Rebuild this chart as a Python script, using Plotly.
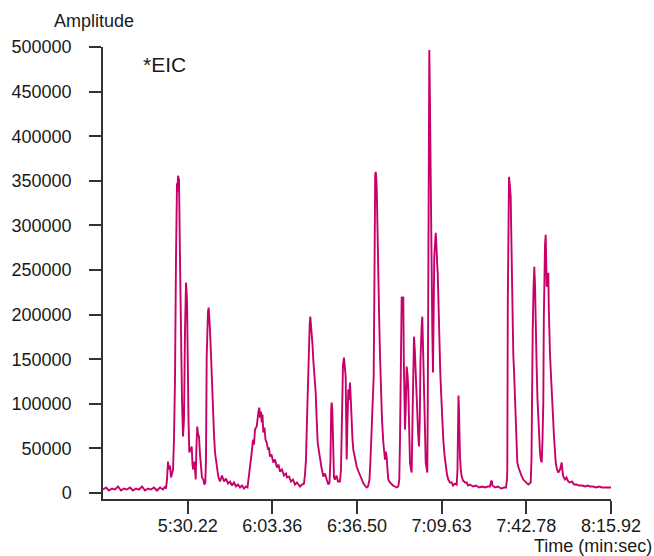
import plotly.graph_objects as go

# Retention time (s) and amplitude
time_s = [
    297.08, 298.25, 299.43, 300.60, 301.78, 302.95, 304.13, 305.30, 306.47, 307.65,
    308.82, 310.00, 311.17, 312.35, 313.52, 314.69, 315.87, 317.04, 318.22, 319.39,
    320.56, 321.35, 321.74, 322.13, 322.52, 322.91, 323.30, 323.70, 324.09, 324.48,
    324.87, 325.26, 325.65, 326.04, 326.24, 326.44, 326.83, 327.22, 327.61, 328.00,
    328.39, 328.78, 329.18, 329.57, 329.96, 330.15, 330.55, 330.86, 331.33, 331.80,
    332.11, 332.42, 332.89, 333.36, 333.68, 333.99, 334.26, 334.65, 335.05, 335.44,
    335.83, 336.34, 336.73, 337.12, 337.39, 337.67, 337.90, 338.18, 338.45, 338.69,
    338.96, 339.35, 339.63, 340.13, 340.53, 340.92, 341.50, 342.21, 342.87, 343.66,
    344.44, 345.22, 346.01, 346.79, 347.57, 348.35, 349.14, 349.92, 350.70, 351.49,
    352.27, 353.05, 353.64, 354.22, 354.62, 355.20, 355.79, 356.18, 356.57, 357.24,
    357.55, 357.94, 358.26, 358.53, 358.92, 359.20, 359.51, 359.82, 360.29, 360.68,
    361.15, 361.66, 362.05, 362.44, 363.03, 363.74, 364.40, 365.18, 365.77, 366.36,
    367.14, 367.92, 368.71, 369.10, 369.88, 370.66, 371.45, 372.23, 373.01, 374.19,
    374.97, 375.75, 376.14, 376.53, 376.93, 377.20, 377.51, 377.71, 377.98, 378.22,
    378.49, 378.77, 379.08, 379.39, 379.86, 380.33, 380.72, 381.11, 381.62, 382.01,
    382.60, 383.31, 383.97, 384.64, 385.26, 385.73, 386.12, 386.40, 386.59, 386.83,
    387.02, 387.22, 387.49, 387.89, 388.47, 389.06, 389.84, 390.23, 390.51, 390.74,
    391.02, 391.41, 391.72, 392.07, 392.27, 392.46, 392.70, 393.09, 393.36, 393.56,
    393.76, 394.07, 394.42, 394.74, 395.05, 395.72, 396.38, 397.08, 397.67, 398.34,
    399.04, 399.63, 400.29, 400.80, 401.39, 401.78, 402.25, 402.64, 403.03, 403.27,
    403.43, 403.62, 403.82, 404.05, 404.25, 404.45, 404.80, 405.11, 405.50, 405.90,
    406.29, 406.80, 407.15, 407.46, 407.77, 408.12, 408.44, 408.75, 409.41, 410.08,
    410.59, 411.37, 411.96, 412.66, 413.05, 413.33, 413.60, 413.80, 413.99, 414.31,
    414.62, 414.82, 415.01, 415.29, 415.56, 415.76, 415.95, 416.27, 416.58, 416.93,
    417.24, 417.63, 417.91, 418.22, 418.50, 418.81, 419.12, 419.48, 419.79, 420.10,
    420.45, 420.77, 421.08, 421.35, 421.55, 421.82, 422.06, 422.33, 422.53, 422.84,
    423.11, 423.39, 423.70, 424.02, 424.21, 424.41, 424.60, 424.80, 424.96, 425.07,
    425.23, 425.35, 425.54, 425.74, 425.97, 426.24, 426.44, 426.64, 426.75, 427.03,
    427.30, 427.50, 427.69, 427.89, 428.09, 428.32, 428.59, 428.87, 429.10, 429.37,
    429.65, 429.96, 430.27, 430.74, 431.22, 431.72, 432.23, 432.90, 433.56, 434.07,
    434.85, 435.52, 435.83, 436.03, 436.22, 436.42, 436.62, 436.81, 437.13, 437.48,
    437.99, 438.77, 439.44, 439.95, 440.73, 441.90, 443.08, 444.25, 445.43, 446.60,
    447.77, 448.55, 448.95, 449.22, 449.54, 450.51, 451.69, 452.86, 454.04, 454.82,
    455.21, 455.33, 455.53, 455.72, 456.00, 456.31, 456.66, 456.86, 457.06, 457.25,
    457.45, 457.68, 457.95, 458.35, 458.62, 458.93, 459.25, 459.72, 460.30, 460.89,
    461.59, 462.26, 462.84, 463.55, 464.02, 464.49, 464.80, 465.00, 465.27, 465.58,
    465.90, 466.17, 466.45, 466.64, 466.84, 467.15, 467.46, 467.82, 468.13, 468.44,
    468.80, 469.11, 469.42, 469.62, 469.82, 470.09, 470.36, 470.56, 470.76, 471.07,
    471.38, 471.58, 471.77, 472.05, 472.32, 472.63, 472.95, 473.30, 473.61, 474.00,
    474.28, 474.79, 475.30, 475.96, 476.35, 476.63, 476.94, 477.25, 477.92, 478.50,
    479.21, 479.88, 480.66, 481.44, 482.49, 483.40, 484.57, 485.75, 486.92, 487.70,
    488.88, 490.05, 491.23, 492.40, 493.58, 494.87, 495.92,
]

amplitude = [
    3900, 6200, 2800, 5000, 3900, 7300, 2800, 5000, 3900, 6200,
    2800, 5000, 3900, 7300, 2800, 5000, 3900, 6200, 2800, 6200,
    3900, 7300, 5000, 15100, 35300, 26300, 30800, 17400, 21800, 26300,
    59900, 127100, 261500, 347200, 338200, 355600, 351100, 261500, 149500, 104700,
    63300, 82300, 183100, 235800, 216700, 138300, 82300, 45400, 48700, 52100,
    31900, 26300, 35300, 15100, 54300, 74500, 66600, 63300, 43100, 26300,
    17400, 15100, 9500, 11800, 37500, 152900, 192100, 203300, 207800, 198800,
    183100, 155100, 130500, 93500, 65500, 45400, 31900, 18500, 12900, 19600,
    12900, 16200, 10600, 12900, 8400, 11800, 7300, 9500, 6200, 8400,
    5000, 7300, 6200, 17400, 29700, 43100, 59900, 54300, 71100, 74500,
    84600, 91300, 95800, 84600, 91300, 79000, 87900, 67800, 73400, 59900,
    56600, 48700, 51000, 40900, 43100, 34200, 37500, 28600, 31900, 24100,
    26300, 19600, 21800, 17400, 18500, 12900, 15100, 9500, 11800, 7300,
    9500, 10600, 20700, 37500, 82300, 112600, 155100, 171900, 188700, 197700,
    188700, 186500, 166300, 149500, 132700, 112600, 82300, 56600, 46500, 37500,
    28600, 18500, 21800, 15100, 9500, 11800, 37500, 93500, 101400, 93500,
    59900, 29700, 17400, 15100, 19600, 12900, 12900, 26300, 82300, 112600,
    143900, 151800, 143900, 130500, 82300, 37500, 71100, 115900, 104700, 115900,
    123800, 104700, 74500, 59900, 48700, 37500, 29700, 24100, 19600, 15100,
    10600, 8400, 6200, 7300, 15100, 37500, 74500, 104700, 130500, 216700,
    328700, 356700, 360100, 353400, 338200, 298500, 243600, 205500, 155100, 112600,
    82300, 56600, 43100, 37500, 46500, 39800, 26300, 15100, 11800, 9500,
    8400, 7300, 6200, 7300, 15100, 59900, 171900, 216700, 220100, 216700,
    220100, 149500, 90200, 71100, 93500, 127100, 141700, 132700, 115900, 71100,
    34200, 26300, 23000, 82300, 149500, 175300, 160700, 130500, 104700, 85700,
    65500, 52100, 82300, 149500, 179800, 188700, 197700, 171900, 138300, 115900,
    71100, 34200, 26300, 23000, 104700, 320900, 418300, 496700, 463100, 421700,
    373500, 339900, 295100, 247000, 183100, 135000, 194300, 243600, 264900, 278300,
    291800, 283900, 276100, 255900, 247000, 216700, 191000, 160700, 135000, 115900,
    96900, 76700, 59900, 43100, 29700, 20700, 15100, 11800, 11800, 8400,
    10600, 9500, 26300, 82300, 109200, 93500, 59900, 40900, 26300, 18500,
    14000, 11800, 11800, 8400, 9500, 7300, 8400, 6200, 7300, 6200,
    7300, 7300, 12900, 14000, 8400, 6200, 7300, 5000, 6200, 6200,
    15100, 26300, 216700, 351100, 354500, 345500, 332100, 295100, 243600, 211100,
    175300, 155100, 138300, 104700, 82300, 54300, 34200, 28600, 23000, 19600,
    15100, 12900, 10600, 9500, 10600, 11800, 37500, 127100, 179800, 227900,
    253700, 233500, 205500, 171900, 138300, 104700, 82300, 59900, 45400, 37500,
    34200, 59900, 101400, 194300, 269400, 278300, 289500, 261500, 231300, 239100,
    247000, 205500, 175300, 155100, 138300, 115900, 101400, 82300, 63300, 46500,
    34200, 26300, 23000, 26300, 31900, 34200, 24100, 18500, 15100, 17400,
    12900, 11800, 12900, 9500, 9500, 8400, 8400, 7300, 8400, 7300,
    7300, 6200, 7300, 6200, 6200, 6200, 6200,
]

x_range = [297.08, 495.92]
y_range = [-6700, 500000]
x_tick_vals = [330.22, 363.36, 396.50, 429.63, 462.78, 495.92]
x_tick_text = ["5:30.22", "6:03.36", "6:36.50", "7:09.63", "7:42.78", "8:15.92"]
y_tick_vals = [0, 50000, 100000, 150000, 200000, 250000, 300000, 350000, 400000, 450000, 500000]
y_tick_text = [str(v) for v in y_tick_vals]

LINE = "#C8006A"
AXIS = "#333333"
TEXT = "#1a1a1a"
FONT = "Liberation Sans, Arial, Helvetica, sans-serif"

fig = go.Figure(
    go.Scatter(
        x=time_s, y=amplitude, mode="lines",
        line=dict(color=LINE, width=1.9),
        hoverinfo="skip",
    )
)

fig.update_layout(
    width=654, height=556,
    margin=dict(l=103, r=43, t=47, b=56.5, pad=0),
    paper_bgcolor="white", plot_bgcolor="white",
    showlegend=False,
    font=dict(family=FONT, size=18, color=TEXT),
    xaxis=dict(
        range=x_range, tickmode="array", tickvals=x_tick_vals, ticktext=x_tick_text,
        showgrid=False, zeroline=False, showline=True, linecolor=AXIS, linewidth=1.5,
        ticks="outside", ticklen=13, tickwidth=1.5, tickcolor=AXIS,
        tickfont=dict(family=FONT, size=18, color=TEXT),
        ticklabelstandoff=-3,
        fixedrange=True,
    ),
    yaxis=dict(
        range=y_range, tickmode="array", tickvals=y_tick_vals, ticktext=y_tick_text,
        showgrid=False, zeroline=False, showline=True, linecolor=AXIS, linewidth=1.5,
        ticks="outside", ticklen=12, tickwidth=1.5, tickcolor=AXIS,
        tickfont=dict(family=FONT, size=18, color=TEXT),
        ticklabelstandoff=14,
        fixedrange=True,
    ),
    annotations=[
        dict(text="Amplitude", xref="paper", yref="paper",
             x=(93.5 - 103) / 508, y=(499.5 - 21) / 452.5,
             xanchor="center", yanchor="middle", showarrow=False,
             font=dict(family=FONT, size=18, color=TEXT)),
        dict(text="*EIC", xref="paper", yref="paper",
             x=(141 - 103) / 508, y=(499.5 - 65) / 452.5,
             xanchor="left", yanchor="middle", showarrow=False,
             font=dict(family=FONT, size=21, color=TEXT)),
        dict(text="Time (min:sec)", xref="paper", yref="paper",
             x=(654 - 103) / 508, y=(499.5 - 547) / 452.5,
             xanchor="right", yanchor="middle", showarrow=False,
             font=dict(family=FONT, size=18, color=TEXT)),
    ],
)

fig.write_html("out.html", config={"displayModeBar": False})
